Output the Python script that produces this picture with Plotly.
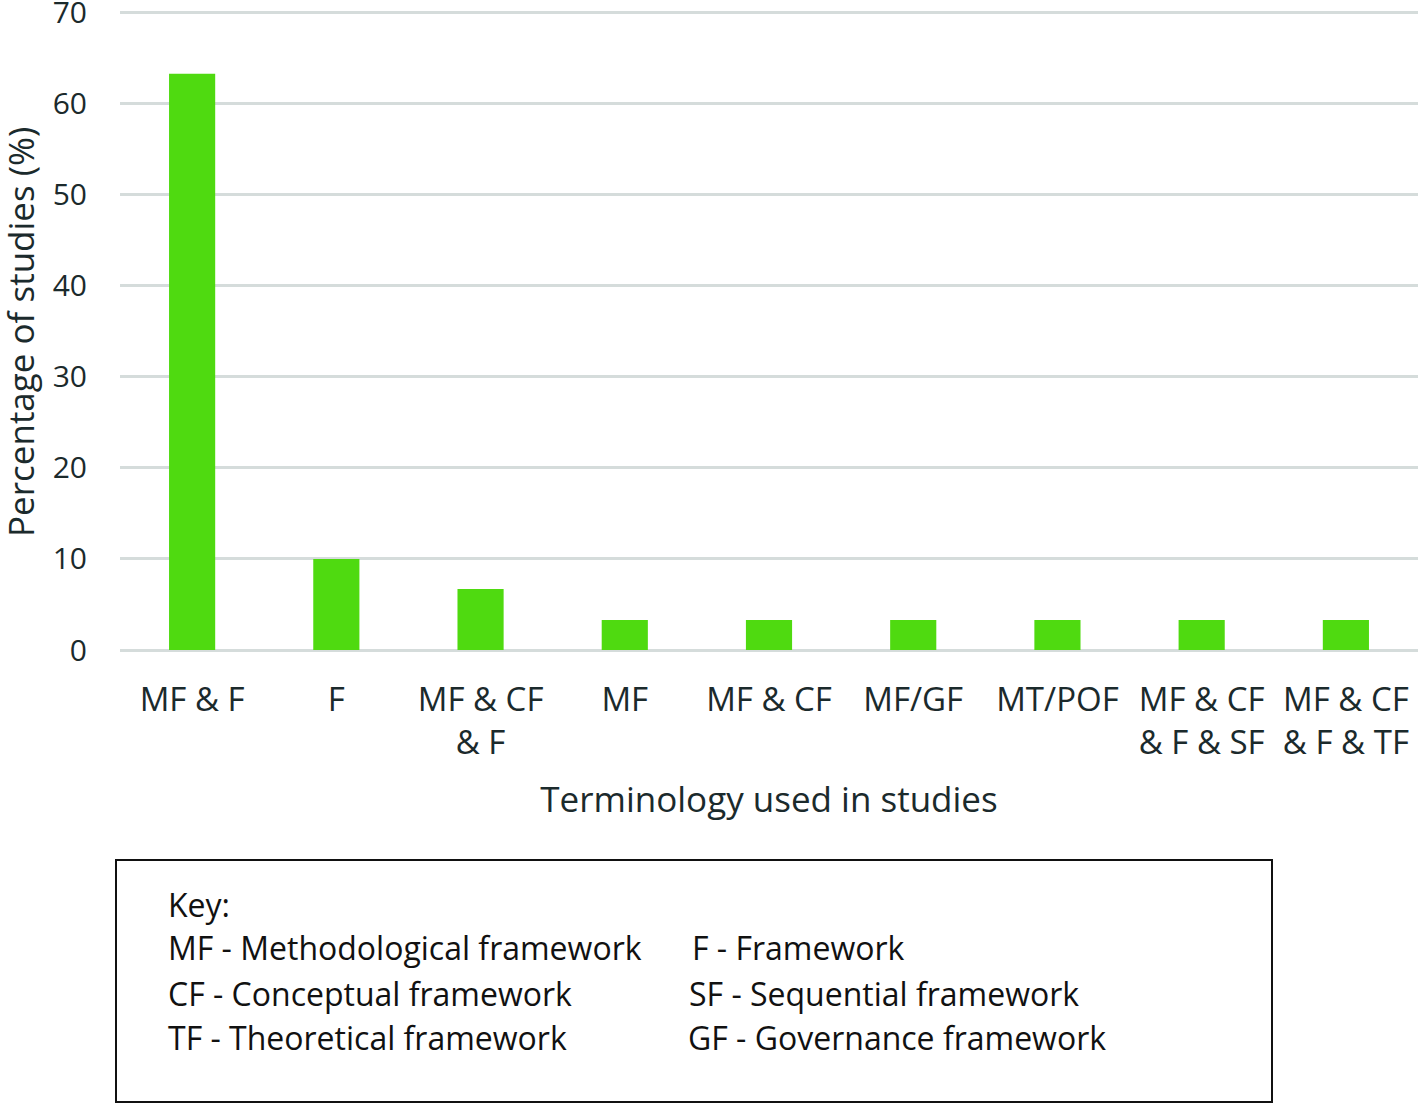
import plotly.graph_objects as go

categories = ["MF & F", "F", "MF & CF<br>& F", "MF", "MF & CF", "MF/GF", "MT/POF",
              "MF & CF<br>& F & SF", "MF & CF<br>& F & TF"]
percentages = [63.3, 10.0, 6.7, 3.3, 3.3, 3.3, 3.3, 3.3, 3.3]
y_ticks = [0, 10, 20, 30, 40, 50, 60, 70]

x_title = "Terminology used in studies"
y_title = "Percentage of studies (%)"
key_title = "Key:"
key_left = ["MF - Methodological framework", "CF - Conceptual framework", "TF - Theoretical framework"]
key_right = ["F - Framework", "SF - Sequential framework", "GF - Governance framework"]

FONT = "Open Sans"
TXT = "#1b2a2c"
W, H = 1418, 1104
ML, MR, MB = 120, 0, 1104 - 650
Y_TOP = 70.4
PH = int(round((650 - 13) / 70 * Y_TOP))
MT = H - MB - PH
PW = W - ML - MR


def px_x(px):
    return (px - ML) / PW


def px_y(py):
    return (H - MB - py) / PH


fig = go.Figure(go.Bar(x=categories, y=percentages, marker=dict(color="#4FDA10", line=dict(width=0)),
                       width=0.32))

fig.update_layout(
    width=W, height=H,
    margin=dict(l=ML, r=MR, t=MT, b=MB, autoexpand=False),
    paper_bgcolor="white", plot_bgcolor="white",
    showlegend=False,
    font=dict(family=FONT, color=TXT),
    xaxis=dict(
        automargin=False,
        tickfont=dict(size=33, color=TXT, family=FONT),
        showgrid=False, showline=False, zeroline=False,
        ticks="outside", ticklen=20, tickcolor="rgba(0,0,0,0)",
        title=dict(text=x_title, font=dict(size=35, color=TXT, family=FONT), standoff=24),
        fixedrange=True,
    ),
    yaxis=dict(
        automargin=False,
        range=[0, Y_TOP], tickvals=y_ticks,
        tickfont=dict(size=30, color=TXT, family=FONT),
        ticklabeloverflow="allow",
        showgrid=True, gridcolor="#d5dcdb", gridwidth=3,
        zeroline=True, zerolinecolor="#d5dcdb", zerolinewidth=3,
        showline=False,
        ticks="outside", ticklen=26, tickcolor="rgba(0,0,0,0)",
        fixedrange=True,
    ),
)

fig.add_annotation(xref="paper", yref="paper", x=px_x(20), y=px_y(332), text=y_title,
                   textangle=-90, showarrow=False, xanchor="center", yanchor="middle",
                   font=dict(size=35, color=TXT, family=FONT))

# Key box
fig.add_shape(type="rect", xref="paper", yref="paper",
              x0=px_x(116), x1=px_x(1272), y0=px_y(1102), y1=px_y(860),
              line=dict(color="#111111", width=2), fillcolor="rgba(0,0,0,0)")

fig.add_annotation(xref="paper", yref="paper", x=px_x(166), y=px_y(904), text=key_title,
                   showarrow=False, xanchor="left", yanchor="middle",
                   font=dict(size=32, color="#111111", family=FONT))
rows_y = [948, 993, 1037]
for txt, yy in zip(key_left, rows_y):
    fig.add_annotation(xref="paper", yref="paper", x=px_x(166), y=px_y(yy), text=txt,
                       showarrow=False, xanchor="left", yanchor="middle",
                       font=dict(size=32, color="#111111", family=FONT))
for txt, yy, xx in zip(key_right, rows_y, [690, 687, 686]):
    fig.add_annotation(xref="paper", yref="paper", x=px_x(xx), y=px_y(yy), text=txt,
                       showarrow=False, xanchor="left", yanchor="middle",
                       font=dict(size=32, color="#111111", family=FONT))

fig.write_html("out.html", config={"displayModeBar": False},
               post_script="document.body.style.margin='0px';document.body.style.overflow='hidden';")
